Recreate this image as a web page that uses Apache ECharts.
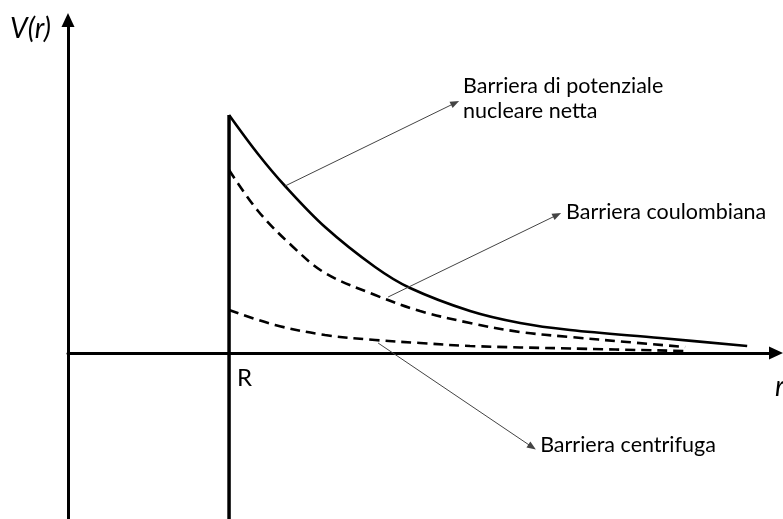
<!DOCTYPE html>
<html>
<head>
<meta charset="utf-8">
<script src="https://cdn.jsdelivr.net/npm/echarts@6/dist/echarts.min.js"></script>
<style>
  html, body { margin: 0; padding: 0; background: #fff; }
  #chart { width: 783px; height: 519px; }
</style>
</head>
<body>
<div id="chart"></div>
<script>
// Radial distance r (arbitrary units) and potential values V(r) for each barrier
const rNet = [2.252, 2.657, 3.035, 3.594, 4.294, 4.783, 5.622, 6.322, 7.021, 8.280, 9.497];
const vNet = [2.38, 1.99, 1.67, 1.26, 0.86, 0.65, 0.42, 0.30, 0.23, 0.15, 0.07];

const rCoulomb = [2.252, 2.657, 3.133, 3.594, 4.294, 4.923, 5.622, 6.322, 7.021, 7.818, 8.629];
const vCoulomb = [1.83, 1.42, 1.07, 0.80, 0.58, 0.42, 0.30, 0.21, 0.16, 0.11, 0.06];

const rCentrifugal = [2.252, 2.895, 3.594, 4.294, 4.923, 5.622, 7.021, 8.629];
const vCentrifugal = [0.43, 0.28, 0.18, 0.13, 0.10, 0.07, 0.045, 0.02];

// Nuclear radius R
const rNucleus = 2.252;

// Axis extents
const rMin = 0, rMax = 9.90;
const vMin = -1.66, vMax = 3.33;

// Annotation arrows: [from r, from V, to r, to V]
const arrowNet = [3.035, 1.67, 5.413, 2.50];
const arrowCoulomb = [4.476, 0.56, 6.839, 1.38];
const arrowCentrifugal = [4.336, 0.10, 6.490, -0.94];

// Annotation texts
const labelNet = ['Barriera di potenziale', 'nucleare netta'];
const labelCoulomb = 'Barriera coulombiana';
const labelCentrifugal = 'Barriera centrifuga';

const zip = (xs, ys) => xs.map((x, i) => [x, ys[i]]);

const FONT = 'Lato, "Open Sans", sans-serif';

const chart = echarts.init(document.getElementById('chart'), null, { renderer: 'canvas' });

function arrowLine(a) {
  return [
    { coord: [a[0], a[1]], symbol: 'none' },
    { coord: [a[2], a[3]], symbol: 'triangle', symbolSize: [7, 9] }
  ];
}

const axisCommon = {
  type: 'value',
  axisLine: {
    show: true,
    onZero: true,
    symbol: ['none', 'triangle'],
    symbolSize: [13, 14],
    lineStyle: { color: '#000', width: 3 }
  },
  axisTick: { show: false },
  axisLabel: { show: false },
  splitLine: { show: false }
};

const curveStyle = { smooth: 0.35, showSymbol: false };

chart.setOption({
  animation: false,
  backgroundColor: '#fff',
  grid: { left: 68, right: 7, top: 20, bottom: 0, containLabel: false },
  xAxis: Object.assign({}, axisCommon, { min: rMin, max: rMax }),
  yAxis: Object.assign({}, axisCommon, { min: vMin, max: vMax }),
  series: [
    Object.assign({
      name: 'Barriera nucleare netta',
      type: 'line',
      data: zip(rNet, vNet),
      lineStyle: { color: '#000', width: 2.6 },
      markLine: {
        silent: true,
        symbol: ['none', 'triangle'],
        label: { show: false },
        lineStyle: { color: '#444', width: 1, type: 'solid' },
        data: [arrowLine(arrowNet), arrowLine(arrowCoulomb), arrowLine(arrowCentrifugal)]
      }
    }, curveStyle),
    Object.assign({
      name: 'Barriera coulombiana',
      type: 'line',
      data: zip(rCoulomb, vCoulomb),
      lineStyle: { color: '#000', width: 2.6, type: [10, 6] }
    }, curveStyle),
    Object.assign({
      name: 'Barriera centrifuga',
      type: 'line',
      data: zip(rCentrifugal, vCentrifugal),
      lineStyle: { color: '#000', width: 2.6, type: [10, 6] }
    }, curveStyle),
    {
      name: 'R',
      type: 'line',
      data: [[rNucleus, vNet[0]], [rNucleus, vMin]],
      showSymbol: false,
      lineStyle: { color: '#000', width: 3.5 }
    }
  ]
});

// Texts anchored at the arrow tips and the axes
const toPx = (p) => chart.convertToPixel({ gridIndex: 0 }, p);
const tipNet = toPx([arrowNet[2], arrowNet[3]]);
const tipCoulomb = toPx([arrowCoulomb[2], arrowCoulomb[3]]);
const tipCentrifugal = toPx([arrowCentrifugal[2], arrowCentrifugal[3]]);
const rPix = toPx([rNucleus, 0]);

const labelFont = '21.5px ' + FONT;
const text = (x, y, s, font) => ({
  type: 'text', x: x, y: y, silent: true,
  style: { text: s, fill: '#000', font: font || labelFont, textVerticalAlign: 'middle' }
});

chart.setOption({
  graphic: [
    text(tipNet[0] + 8, tipNet[1] - 17, labelNet[0]),
    text(tipNet[0] + 8, tipNet[1] + 8, labelNet[1]),
    text(tipCoulomb[0] + 9, tipCoulomb[1] - 3, labelCoulomb),
    text(tipCentrifugal[0] + 8, tipCentrifugal[1] - 2, labelCentrifugal),
    text(rPix[0] + 8, rPix[1] + 25, 'R', '24px ' + FONT),
    text(10, 29, 'V(r)', 'italic 28px ' + FONT),
    text(775, 387, 'r', 'italic 28px ' + FONT)
  ]
});
</script>
</body>
</html>
